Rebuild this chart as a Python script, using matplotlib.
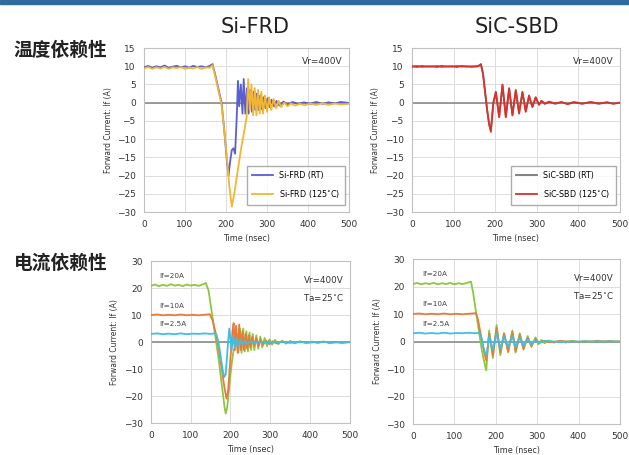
import numpy as np
import matplotlib
matplotlib.use('Agg')
import matplotlib.pyplot as plt
from matplotlib.patches import Rectangle

plt.rcParams['font.family'] = ['DejaVu Sans', 'Noto Sans CJK SC']

# --- Si-FRD, temperature (RT / 125C), (time ns, current A)
frd_rt = [(0, 9.7), (10, 10.1), (20, 9.6), (30, 10.0), (40, 9.7), (50, 10.2), (60, 9.6), (70, 9.9),
          (80, 10.1), (90, 9.7), (100, 10.0), (110, 9.6), (120, 10.1), (130, 9.8), (140, 10.0), (150, 9.7),
          (160, 10.1), (167, 10.6), (175, 7.0), (182, 3.5), (189, 0.0), (196, -8), (202, -16), (206, -20),
          (210, -16), (214, -13), (218, -12.5), (222, -14), (226, -4), (229, 6), (232, -1), (236, 5),
          (240, -3), (243, 6.5), (247, -3), (251, 4), (255, -3), (259, 3.5), (263, -2.5), (267, 3),
          (271, -2), (275, 2.5), (279, -2), (283, 2), (287, -1.8), (291, 1.5), (296, -1.5), (301, 1.2),
          (306, -1.2), (311, 0.8), (317, -1), (323, 0.5), (330, -0.8), (340, 0.3), (350, -0.5), (362, 0.2),
          (375, -0.4), (390, 0.1), (405, -0.3), (420, 0.2), (435, -0.3), (450, 0.1), (465, -0.2),
          (480, 0.2), (500, -0.1)]
frd_hot = [(0, 9.4), (10, 9.8), (20, 9.3), (30, 9.7), (40, 9.4), (50, 9.8), (60, 9.3), (70, 9.7),
           (80, 9.5), (90, 9.8), (100, 9.3), (110, 9.6), (120, 9.4), (130, 9.8), (140, 9.3), (150, 9.7),
           (160, 9.6), (167, 10.3), (175, 6.5), (182, 3.0), (189, -0.5), (196, -8), (202, -15), (208, -23),
           (214, -28.5), (220, -25), (228, -19), (236, -13), (244, -8), (250, -4), (254, 6.5), (258, -2),
           (262, 5), (266, -3.5), (270, 4), (274, -3.5), (278, 3.5), (282, -3), (286, 3), (290, -3),
           (295, 2), (300, -2.5), (305, 1.5), (310, -2), (316, 1), (322, -1.5), (328, 0.5), (334, -1.2),
           (342, 0.0), (350, -1.0), (358, -0.2), (368, -0.8), (380, -0.3), (392, -0.7), (405, -0.2),
           (420, -0.6), (435, -0.1), (450, -0.6), (465, -0.2), (480, -0.5), (500, -0.3)]

# --- SiC-SBD, temperature
sbd_rt = [(0, 9.9), (12, 10.1), (24, 9.8), (36, 10.0), (48, 9.9), (60, 10.1), (72, 9.8), (84, 10.0),
          (96, 9.9), (108, 10.1), (120, 9.9), (132, 10.0), (144, 9.8), (156, 10.1), (162, 10.2),
          (166, 10.5), (171, 8), (176, 3), (181, -2), (186, -6), (190, -7.5), (196, 0), (202, 2.8),
          (210, -3.8), (218, 4.8), (226, -3.8), (234, 3.8), (242, -3.3), (250, 3.3), (258, -2.8),
          (266, 2.8), (274, -2.3), (282, 1.8), (290, -1.1), (298, 1.4), (306, -0.5), (312, 0.5),
          (320, -0.3), (330, 0.2), (345, -0.3), (360, 0.1), (375, -0.3), (390, 0.2), (410, -0.2),
          (430, 0.1), (450, -0.3), (470, 0.1), (485, -0.2), (500, 0.0)]
sbd_hot = [(0, 10.0), (12, 9.8), (24, 10.1), (36, 9.9), (48, 10.0), (60, 9.8), (72, 10.1), (84, 9.9),
           (96, 10.0), (108, 9.8), (120, 10.1), (132, 9.9), (144, 10.0), (156, 9.9), (162, 10.2),
           (166, 10.6), (171, 8), (176, 3), (181, -2), (186, -6), (190, -8), (196, 0), (202, 3),
           (210, -4), (218, 5), (226, -4), (234, 4), (242, -3.5), (250, 3.5), (258, -3), (266, 3),
           (274, -2.5), (282, 2), (290, -1.2), (298, 1.5), (306, -0.6), (312, 0.5), (320, -0.3),
           (330, 0.3), (345, -0.2), (360, 0.2), (375, -0.4), (390, 0.1), (410, -0.3), (430, 0.2),
           (450, -0.2), (470, 0.1), (485, -0.3), (500, 0.0)]

# --- Si-FRD, forward current 20A / 10A / 2.5A
frd_20a = [(0, 20.8), (10, 21.3), (20, 20.7), (30, 21.2), (40, 20.8), (50, 21.4), (60, 20.9), (70, 21.2),
           (80, 20.7), (90, 21.3), (100, 20.9), (110, 21.2), (120, 20.8), (130, 21.3), (138, 21.9),
           (145, 19), (150, 14), (155, 9), (160, 4), (165, -1), (170, -6), (175, -12), (180, -18),
           (185, -24), (188, -26.5), (192, -24), (196, -18), (200, -12), (204, -7), (208, -3), (212, -2),
           (216, 3), (220, -4), (224, 5), (228, -4), (232, 5), (236, -3.5), (240, 4), (244, -3.5),
           (248, 3.5), (252, -3), (256, 3), (260, -3), (265, 2.5), (270, -2.5), (275, 2), (280, -2),
           (286, 1.5), (292, -1.5), (298, 1), (305, -1), (312, 0.8), (320, -0.8), (330, 0.5), (340, -0.6),
           (350, 0.4), (362, -0.5), (375, 0.3), (390, -0.5), (405, 0.2), (420, -0.4), (435, 0.2),
           (450, -0.5), (465, 0.1), (480, -0.4), (500, -0.1)]
frd_10a = [(0, 10.0), (15, 10.2), (30, 9.9), (45, 10.1), (60, 9.9), (75, 10.2), (90, 9.9), (105, 10.1),
           (120, 9.9), (135, 10.1), (148, 10.3), (155, 8), (160, 5), (165, 2), (170, -2), (175, -7),
           (180, -12), (185, -17), (190, -21), (194, -18), (198, -10), (202, -2), (205, 4), (208, 7),
           (211, -3), (214, 6), (218, -4), (222, 6.5), (226, -3), (230, 4), (234, -3), (238, 3),
           (242, -2.5), (246, 2.5), (250, -2), (255, 2), (260, -1.5), (265, 1.5), (270, -1.5), (276, 1),
           (282, -1), (290, 0.5), (298, -0.8), (306, 0.3), (315, -0.5), (330, 0.2), (350, -0.3),
           (375, 0.1), (400, -0.2), (430, 0.1), (460, -0.2), (500, 0.0)]
frd_2a5 = [(0, 3.0), (15, 3.2), (30, 2.9), (45, 3.1), (60, 2.9), (75, 3.2), (90, 2.9), (105, 3.1),
           (120, 3.0), (135, 3.2), (150, 3.0), (160, 3.2), (164, 3.0), (168, 1), (172, -2), (176, -6),
           (180, -10), (184, -13), (188, -12), (191, -6), (194, 0), (197, 5), (200, 1), (203, -3),
           (207, 2), (211, -2), (215, 1.5), (220, -1.5), (225, 1), (230, -1), (236, 0.6), (242, -0.6),
           (250, 0.3), (260, -0.3), (275, 0.2), (290, -0.2), (310, 0.1), (340, -0.1), (400, 0.0),
           (500, 0.0)]

# --- SiC-SBD, forward current 20A / 10A / 2.5A
sbd_20a = [(0, 20.9), (10, 21.3), (20, 20.8), (30, 21.2), (40, 20.9), (50, 21.3), (60, 20.8), (70, 21.2),
           (80, 20.9), (90, 21.3), (100, 20.8), (110, 21.2), (120, 20.9), (130, 21.3), (140, 21.8),
           (145, 18), (150, 13), (155, 8), (160, 3), (165, -2), (170, -6), (177, -10.5), (184, 4),
           (193, -6), (202, 6), (211, -5), (220, 3), (230, -4), (240, 4), (248, -4), (258, 3), (267, -3),
           (277, 2), (286, -2), (296, 1.5), (303, -1), (310, 0.6), (318, -0.6), (328, 0.4), (340, -0.4),
           (355, 0.3), (370, -0.4), (385, 0.3), (400, -0.3), (415, 0.2), (430, -0.3), (445, 0.3),
           (460, -0.3), (475, 0.2), (490, -0.2), (500, 0.0)]
sbd_10a = [(0, 10.0), (15, 10.2), (30, 9.9), (45, 10.1), (60, 9.9), (75, 10.2), (90, 9.9), (105, 10.1),
           (120, 9.9), (135, 10.1), (152, 10.3), (157, 8), (162, 4), (167, 0), (172, -4), (177, -7),
           (184, 3), (193, -5), (202, 5), (211, -4), (220, 3), (230, -3.5), (240, 3.5), (248, -3.5),
           (258, 2.5), (267, -2.5), (277, 1.5), (286, -1.5), (296, 1), (305, -0.6), (315, 0.3),
           (330, -0.2), (360, 0.1), (400, -0.1), (450, 0.1), (500, 0.0)]
sbd_2a5 = [(0, 3.0), (15, 3.2), (30, 2.9), (45, 3.1), (60, 2.9), (75, 3.2), (90, 2.9), (105, 3.1),
           (120, 3.0), (135, 3.2), (150, 3.0), (160, 3.2), (166, 1), (170, -2), (174, -4), (178, -5),
           (184, 2), (193, -3), (202, 3), (211, -2.5), (220, 2), (230, -2), (240, 2), (248, -2),
           (258, 1.5), (267, -1.5), (277, 1), (286, -1), (296, 0.5), (305, -0.4), (320, 0.2),
           (350, -0.1), (400, 0.0), (500, 0.0)]

x_ticks = [0, 100, 200, 300, 400, 500]
y_ticks_temp = [15, 10, 5, 0, -5, -10, -15, -20, -25, -30]
y_ticks_curr = [30, 20, 10, 0, -10, -20, -30]
current_labels = ['If=20A', 'If=10A', 'If=2.5A']
current_label_y = [24.5, 13.5, 6.5]

c_blue = '#5a5fcf'
c_yellow = '#f2b632'
c_gray = '#777777'
c_red = '#d9322b'
c_green = '#8cc83c'
c_orange = '#ea7a3c'
c_cyan = '#3fbfe6'


def setup(ax, yticks):
    ax.set_xlim(0, 500)
    ax.set_ylim(min(yticks), max(yticks))
    ax.set_xticks(x_ticks)
    ax.set_yticks(yticks)
    ax.grid(True, color='#dcdcdc', lw=0.7)
    ax.set_axisbelow(True)
    ax.axhline(0, color='#8c8c8c', lw=1.2, zorder=1)
    for s in ax.spines.values():
        s.set_color('#c0c0c0')
        s.set_linewidth(0.8)
    ax.tick_params(length=0, pad=6, labelsize=6.5, labelcolor='#333333')
    ax.set_xlabel('Time (nsec)', fontsize=5.8, color='#333333', labelpad=3)
    ax.set_ylabel('Forward Current: If (A)', fontsize=5.5, color='#333333', labelpad=3)


def trace(ax, pts, color, label=None, lw=1.3):
    d = np.array(pts, dtype=float).T
    ax.plot(d[0], d[1], color=color, lw=lw, label=label, zorder=3)


fig = plt.figure(figsize=(6.29, 4.55), dpi=100)
fig.patches.append(Rectangle((0, 1 - 4 / 455), 1, 4 / 455, transform=fig.transFigure,
                             color='#2f6b9c', zorder=0))

ax1 = fig.add_axes([0.229, 0.534, 0.326, 0.3604])
ax2 = fig.add_axes([0.655, 0.534, 0.330, 0.3604])
ax3 = fig.add_axes([0.240, 0.0703, 0.316, 0.356])
ax4 = fig.add_axes([0.6566, 0.0681, 0.329, 0.3626])

setup(ax1, y_ticks_temp)
trace(ax1, frd_rt, c_blue, 'Si-FRD (RT)')
trace(ax1, frd_hot, c_yellow, 'Si-FRD (125$^{\\circ}$C)')

setup(ax2, y_ticks_temp)
trace(ax2, sbd_rt, c_gray, 'SiC-SBD (RT)')
trace(ax2, sbd_hot, c_red, 'SiC-SBD (125$^{\\circ}$C)')

for ax in (ax1, ax2):
    ax.legend(loc='lower right', fontsize=5.8, frameon=True, fancybox=False, edgecolor='#999999',
              handlelength=2.6, borderpad=0.6, labelspacing=1.0, bbox_to_anchor=(1.0, 0.02))
    ax.text(0.97, 0.92, 'Vr=400V', transform=ax.transAxes, ha='right', va='center',
            fontsize=6.5, color='#333333')

setup(ax3, y_ticks_curr)
trace(ax3, frd_20a, c_green)
trace(ax3, frd_10a, c_orange)
trace(ax3, frd_2a5, c_cyan)

setup(ax4, y_ticks_curr)
trace(ax4, sbd_20a, c_green)
trace(ax4, sbd_10a, c_orange)
trace(ax4, sbd_2a5, c_cyan)

for ax in (ax3, ax4):
    for lab, yy in zip(current_labels, current_label_y):
        ax.text(22, yy, lab, fontsize=5.2, color='#444444', va='center')
    ax.text(0.97, 0.91, 'Vr=400V\nTa=25$^{\\circ}$C', transform=ax.transAxes, ha='right', va='top',
            fontsize=6.3, color='#333333', linespacing=1.8)

fig.text(0.405, 0.941, 'Si-FRD', ha='center', va='center', fontsize=15, color='#222222')
fig.text(0.822, 0.941, 'SiC-SBD', ha='center', va='center', fontsize=15, color='#222222')
fig.text(0.022, 0.890, '温度依赖性', ha='left', va='center', fontsize=13.5, fontweight='bold',
         family=['Noto Sans CJK SC', 'DejaVu Sans'], color='#222222')
fig.text(0.022, 0.422, '电流依赖性', ha='left', va='center', fontsize=13.5, fontweight='bold',
         family=['Noto Sans CJK SC', 'DejaVu Sans'], color='#222222')

fig.savefig('out.png', dpi=100, facecolor='white')
